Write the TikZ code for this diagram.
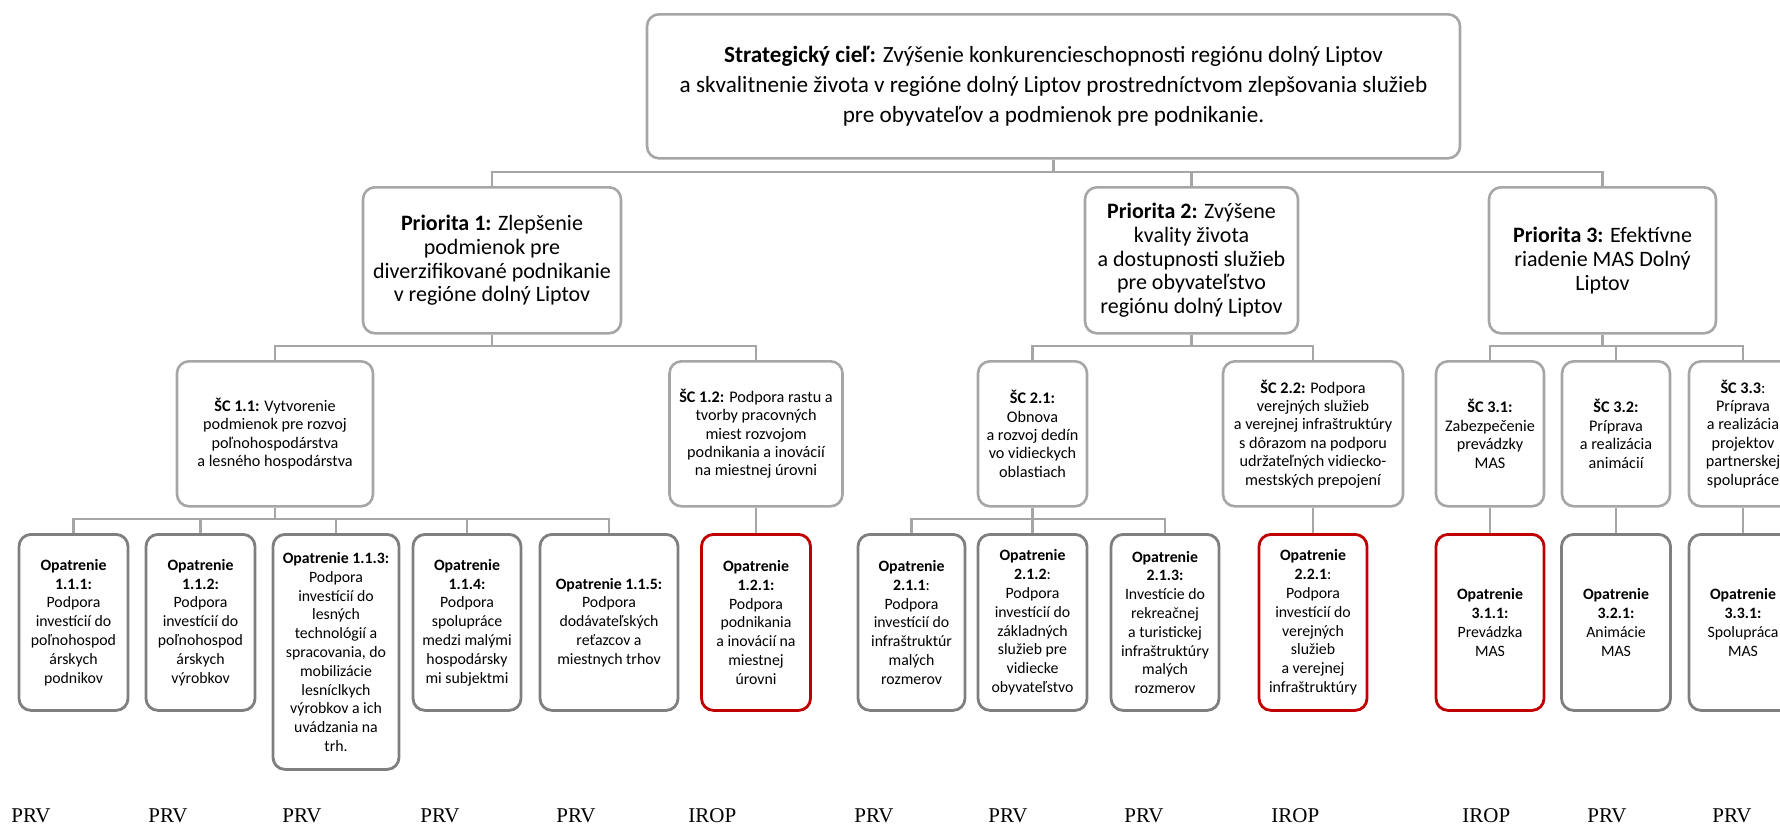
\documentclass[tikz,border=0pt]{standalone}
\usepackage{fontspec}
\setmainfont{Carlito}
\newfontfamily\srcfont{Liberation Serif}
\definecolor{LineGray}{RGB}{166,166,166}
\definecolor{BoxGray}{RGB}{127,127,127}
\definecolor{MeasureRed}{RGB}{192,0,0}

\begin{document}
\begin{tikzpicture}[
      x=0.5pt, y=-0.5pt,
      every node/.style={align=center, inner sep=2pt},
      box/.style={draw, rounded corners=6pt, anchor=north, line width=1.3pt},
      goal/.style={box, draw=LineGray, font=\fontsize{11.6}{14.9}\selectfont, minimum height=72pt},
      prio/.style={box, draw=LineGray, font=\fontsize{11}{11.9}\selectfont, minimum height=73pt},
      sc/.style={box, draw=LineGray, font=\fontsize{8.1}{9.2}\selectfont, minimum height=72.5pt},
      opat/.style={box, draw=BoxGray, line width=1.4pt, font=\fontsize{7.9}{9.4}\selectfont, minimum height=88pt},
      opatred/.style={opat, draw=MeasureRed},
      link/.style={draw=LineGray, line width=1.3pt},
      src/.style={anchor=west, inner sep=0pt, font=\srcfont\fontsize{10.5}{12}\selectfont}
  ]
    \useasboundingbox (0,0) rectangle (1780,827);
    \clip (0,0) rectangle (1780,827);
    % strategic goal and priorities
    \node[goal, minimum width=406.5pt] (cil) at (1053.5,13) {\textbf{Strategický cieľ:} Zvýšenie konkurencieschopnosti regiónu dolný Liptov\\ a skvalitnenie života v regióne dolný Liptov prostredníctvom zlepšovania služieb\\ pre obyvateľov a podmienok pre podnikanie.};
    \node[prio, minimum width=129pt] (p1) at (492,186) {\textbf{Priorita 1:} Zlepšenie\\ podmienok pre\\ diverzifikované podnikanie\\ v regióne dolný Liptov};
    \node[prio, minimum width=106.5pt] (p2) at (1191.5,186) {\textbf{Priorita 2:} Zvýšene\\ kvality života\\ a dostupnosti služieb\\ pre obyvateľstvo\\ regiónu dolný Liptov};
    \node[prio, minimum width=113.5pt] (p3) at (1602.5,186) {\textbf{Priorita 3:} Efektívne\\ riadenie MAS Dolný\\ Liptov};
    % specific goals
    \node[sc, minimum width=98pt] (sc11) at (275,360) {\textbf{ŠC 1.1:} Vytvorenie\\ podmienok pre rozvoj\\ poľnohospodárstva\\ a lesného hospodárstva};
    \node[sc, minimum width=86.5pt] (sc12) at (756,360) {\textbf{ŠC 1.2:} Podpora rastu a\\ tvorby pracovných\\ miest rozvojom\\ podnikania a inovácií\\ na miestnej úrovni};
    \node[sc, minimum width=54.5pt] (sc21) at (1032.5,360) {\textbf{ŠC 2.1:}\\ Obnova\\ a rozvoj dedín\\ vo vidieckych\\ oblastiach};
    \node[sc, minimum width=90pt] (sc22) at (1313,360) {\textbf{ŠC 2.2:} Podpora\\ verejných služieb\\ a verejnej infraštruktúry\\ s dôrazom na podporu\\ udržateľných vidiecko-\\ mestských prepojení};
    \node[sc, minimum width=54pt] (sc31) at (1490,360) {\textbf{ŠC 3.1:}\\ Zabezpečenie\\ prevádzky\\ MAS};
    \node[sc, minimum width=54pt] (sc32) at (1616,360) {\textbf{ŠC 3.2:}\\ Príprava\\ a realizácia\\ animácií};
    \node[sc, minimum width=54pt] (sc33) at (1743,360) {\textbf{ŠC 3.3}:\\ Príprava\\ a realizácia\\ projektov\\ partnerskej\\ spolupráce};
    % measures
    \node[opat, minimum width=54.5pt] (o111) at (73.5,533) {\textbf{Opatrenie}\\ \textbf{1.1.1:}\\ Podpora\\ investícií do\\ poľnohospod\\ árskych\\ podnikov};
    \node[opat, minimum width=54.5pt] (o112) at (200.5,533) {\textbf{Opatrenie}\\ \textbf{1.1.2:}\\ Podpora\\ investícií do\\ poľnohospod\\ árskych\\ výrobkov};
    \node[opat, minimum width=63pt, minimum height=117.5pt] (o113) at (336,533) {\textbf{Opatrenie 1.1.3:}\\ Podpora\\ investícií do\\ lesných\\ technológií a\\ spracovania, do\\ mobilizácie\\ lesníclkych\\ výrobkov a ich\\ uvádzania na\\ trh.};
    \node[opat, minimum width=54pt] (o114) at (467,533) {\textbf{Opatrenie}\\ \textbf{1.1.4:}\\ Podpora\\ spolupráce\\ medzi malými\\ hospodársky\\ mi subjektmi};
    \node[opat, minimum width=69pt] (o115) at (609,533) {\textbf{Opatrenie 1.1.5:}\\ Podpora\\ dodávateľských\\ reťazcov a\\ miestnych trhov};
    \node[opatred, minimum width=54.5pt] (o121) at (756,533) {\textbf{Opatrenie}\\ \textbf{1.2.1:}\\ Podpora\\ podnikania\\ a inovácií na\\ miestnej\\ úrovni};
    \node[opat, minimum width=53.5pt] (o211) at (911.5,533) {\textbf{Opatrenie}\\ \textbf{2.1.1}:\\ Podpora\\ investícií do\\ infraštruktúr\\ malých\\ rozmerov};
    \node[opat, minimum width=54.5pt] (o212) at (1032.5,533) {\textbf{Opatrenie}\\ \textbf{2.1.2}:\\ Podpora\\ investícií do\\ základných\\ služieb pre\\ vidiecke\\ obyvateľstvo};
    \node[opat, minimum width=54pt] (o213) at (1165,533) {\textbf{Opatrenie}\\ \textbf{2.1.3:}\\ Investície do\\ rekreačnej\\ a turistickej\\ infraštruktúry\\ malých\\ rozmerov};
    \node[opatred, minimum width=54pt] (o221) at (1313,533) {\textbf{Opatrenie}\\ \textbf{2.2.1}:\\ Podpora\\ investícií do\\ verejných\\ služieb\\ a verejnej\\ infraštruktúry};
    \node[opatred, minimum width=54pt] (o311) at (1490,533) {\textbf{Opatrenie}\\ \textbf{3.1.1:}\\ Prevádzka\\ MAS};
    \node[opat, minimum width=54.5pt] (o321) at (1616,533) {\textbf{Opatrenie}\\ \textbf{3.2.1:}\\ Animácie\\ MAS};
    \node[opat, minimum width=54pt] (o331) at (1743,533) {\textbf{Opatrenie}\\ \textbf{3.3.1:}\\ Spolupráca\\ MAS};
    % funding sources
    \node[src] (s1) at (11,816) {PRV};
    \node[src] (s2) at (148,816) {PRV};
    \node[src] (s3) at (282,816) {PRV};
    \node[src] (s4) at (420,816) {PRV};
    \node[src] (s5) at (556,816) {PRV};
    \node[src] (s6) at (688,816) {IROP};
    \node[src] (s7) at (854,816) {PRV};
    \node[src] (s8) at (988,816) {PRV};
    \node[src] (s9) at (1124,816) {PRV};
    \node[src] (s10) at (1271,816) {IROP};
    \node[src] (s11) at (1462,816) {IROP};
    \node[src] (s12) at (1587,816) {PRV};
    \node[src] (s13) at (1712,816) {PRV};
    % tree lines
    \draw[link] (cil.south) |- ([yshift=7pt]p1.north) -- (p1.north);
    \draw[link] (cil.south) |- ([yshift=7pt]p2.north) -- (p2.north);
    \draw[link] (cil.south) |- ([yshift=7pt]p3.north) -- (p3.north);
    \draw[link] (p1.south) |- ([yshift=7pt]sc11.north) -- (sc11.north);
    \draw[link] (p1.south) |- ([yshift=7pt]sc12.north) -- (sc12.north);
    \draw[link] (p2.south) |- ([yshift=7pt]sc21.north) -- (sc21.north);
    \draw[link] (p2.south) |- ([yshift=7pt]sc22.north) -- (sc22.north);
    \draw[link] (p3.south) |- ([yshift=7pt]sc31.north) -- (sc31.north);
    \draw[link] (p3.south) |- ([yshift=7pt]sc32.north) -- (sc32.north);
    \draw[link] (p3.south) |- ([yshift=7pt]sc33.north) -- (sc33.north);
    \draw[link] (sc11.south) |- ([yshift=7pt]o111.north) -- (o111.north);
    \draw[link] (sc11.south) |- ([yshift=7pt]o112.north) -- (o112.north);
    \draw[link] (sc11.south) |- ([yshift=7pt]o113.north) -- (o113.north);
    \draw[link] (sc11.south) |- ([yshift=7pt]o114.north) -- (o114.north);
    \draw[link] (sc11.south) |- ([yshift=7pt]o115.north) -- (o115.north);
    \draw[link] (sc12.south) -- (o121.north);
    \draw[link] (sc21.south) |- ([yshift=7pt]o211.north) -- (o211.north);
    \draw[link] (sc21.south) |- ([yshift=7pt]o212.north) -- (o212.north);
    \draw[link] (sc21.south) |- ([yshift=7pt]o213.north) -- (o213.north);
    \draw[link] (sc22.south) -- (o221.north);
    \draw[link] (sc31.south) -- (o311.north);
    \draw[link] (sc32.south) -- (o321.north);
    \draw[link] (sc33.south) -- (o331.north);
  \end{tikzpicture}
\end{document}
